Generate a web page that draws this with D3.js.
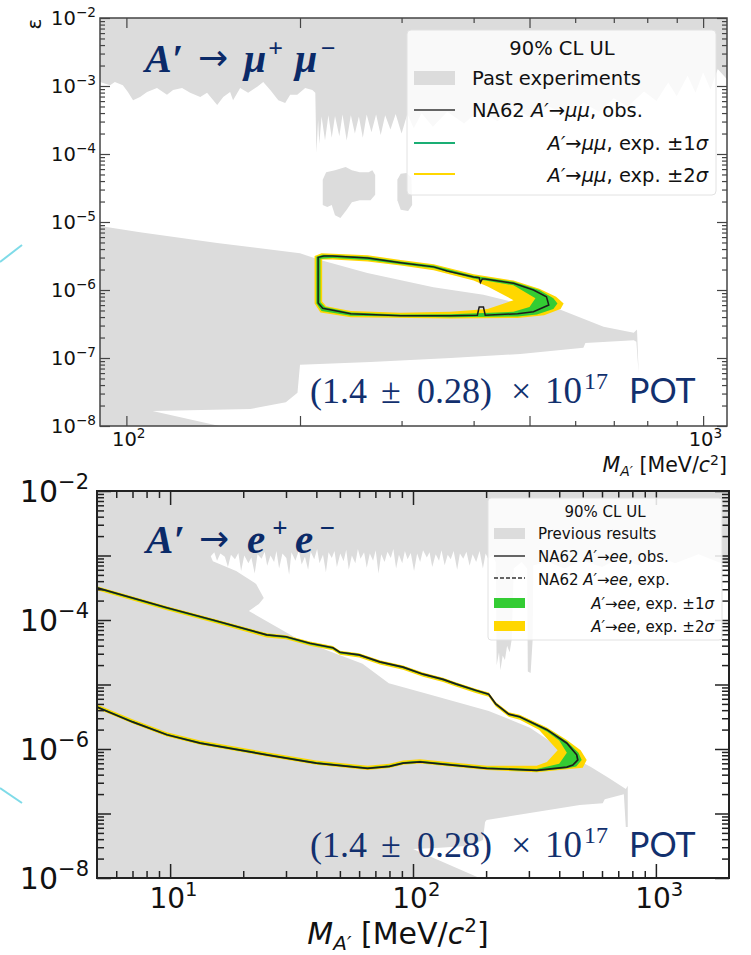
<!DOCTYPE html>
<html><head><meta charset="utf-8">
<script src="https://cdn.jsdelivr.net/npm/d3@7/dist/d3.min.js"></script>
<style>body{margin:0;background:#fff}svg{display:block}</style>
</head><body>
<svg id="c" width="751" height="955"></svg>
<script>
// ---------------- DATA (mass in MeV, epsilon given as log10 value) ----------------
const EPS_DOMAIN = [1e-8, 1e-2];
const MU_MASS_DOMAIN = [90, 1100];
const EE_MASS_DOMAIN = [5, 2000];
const EPS_DECADES = [-8, -7, -6, -5, -4, -3, -2];
const MU_EPS_LABELS = [-8, -7, -6, -5, -4, -3, -2];
const EE_EPS_LABELS = [-8, -6, -4, -2];
const MU_MASS_LONG = [100, 200, 500, 1000];
const MU_MASS_SHORT = [300, 400, 600, 700, 800, 900];
const MU_MASS_LABELS = [[100, "2"], [1000, "3"]];
const EE_MASS_LONG = [10, 100, 1000];
const EE_MASS_SHORT = [6, 7, 8, 9, 20, 30, 40, 50, 60, 70, 80, 90, 200, 300, 400, 500, 600, 700, 800, 900];
const EE_MASS_LABELS = [[10, "1"], [100, "2"], [1000, "3"]];

// --- A' -> mu mu : past experiments (excluded regions)
const muPastTopEdge = [[90,-2.94],[93.7,-2.99],[95.5,-2.94],[98.6,-2.99],[100.6,-3.09],[102.7,-3.21],[105.6,-3.16],[108.6,-3.09],[113,-3.03],[117.6,-3.13],[120.5,-3.06],[124.9,-3.03],[129,-3.10],[134.3,-3.16],[138,-3.10],[143.7,-3.28],[147.2,-3.16],[151.3,-3.09],[153.1,-3.21],[157.5,-3.03],[162.6,-3.10],[168.6,-3.01],[172.7,-2.94],[177.6,-3.06],[183.4,-3.21],[188.5,-3.25],[192.3,-3.13],[197.8,-3.13],[204.2,-3.03],[210.1,-3.06],[212.6,-3.10],
[213.5,-3.98],[215,-3.5],[216,-3.85],[218,-3.45],[221,-3.80],[224,-3.43],[227,-3.76],[230,-3.44],[234,-3.74],[237,-3.42],[241,-3.80],[245,-3.43],[249,-3.70],[253,-3.45],[257,-3.76],[261,-3.42],[266,-3.68],[271,-3.42],[276,-3.72],[281,-3.43],[287,-3.64],[293,-3.41],[300,-3.70],[307,-3.41],[315,-3.62],[325,-3.40],[340,-3.60],[360,-3.38],[385,-3.55],[410,-3.35],[440,-3.52],[470,-3.32],[505,-3.48],[540,-3.30],[580,-3.42],[620,-3.25],[660,-3.38],[700,-3.18],[740,-3.30],[790,-3.08],[830,-3.22],[870,-2.95],[900,-3.15],[940,-2.85],[970,-3.10],[1000,-2.80],[1030,-3.05],[1060,-2.75],[1100,-2.90],[1100,-2],[90,-2]];
const muPastIsland1 = [[219,-4.75],[219,-4.38],[222,-4.27],[230,-4.24],[240,-4.19],[246,-4.24],[254,-4.27],[263,-4.27],[267,-4.24],[270,-4.31],[270,-4.60],[265,-4.68],[254,-4.68],[246,-4.71],[241,-4.82],[235,-4.94],[230,-4.90],[227,-4.75],[223,-4.78]];
const muPastIsland2 = [[295,-4.38],[299,-4.29],[306,-4.28],[312,-4.35],[313,-4.75],[308,-4.84],[299,-4.82],[295,-4.68]];
const muPastLower = [[90,-5.06],[105.6,-5.15],[143.7,-5.31],[200,-5.46],[216.8,-5.56],[261.7,-5.75],[340.7,-5.96],[416,-6.07],[469,-6.18],[522,-6.22],[566,-6.29],[672,-6.54],[758,-6.63],[768,-6.58],[773,-7.22],[766,-6.76],[758,-6.74],[625,-6.78],[620,-6.85],[482,-6.94],[365,-7.0],[265,-7.06],[200,-7.10],[198,-7.51],[189,-7.65],[164,-7.75],[111,-7.78],[145,-8.0],[90,-8.0]];

// --- A' -> mu mu : NA62 observed and expected bands (closed contours)
const muObs = [[215,-5.52],[220,-5.50],[228,-5.50],[262,-5.53],[299,-5.60],[341,-5.66],[360,-5.72],[400,-5.81],[409,-5.82],[411,-5.89],[414,-5.84],[419,-5.84],[469,-5.90],[508,-6.00],[535,-6.10],[540,-6.22],[508,-6.32],[477,-6.35],[419,-6.37],[416,-6.25],[409,-6.25],[406,-6.37],[365,-6.38],[299,-6.38],[245,-6.35],[219,-6.27],[215,-6.19]];
const muOuter2 = [[212,-6.2],[212,-5.5],[218,-5.46],[262,-5.49],[299,-5.56],[341,-5.62],[400,-5.77],[469,-5.86],[520,-5.98],[556,-6.10],[573,-6.2],[566,-6.28],[530,-6.37],[477,-6.41],[365,-6.42],[245,-6.40],[217,-6.33]];
const muOuter1 = [[213.5,-6.2],[213.5,-5.51],[219,-5.48],[262,-5.51],[299,-5.58],[341,-5.64],[400,-5.79],[469,-5.88],[520,-6.0],[550,-6.12],[559,-6.2],[550,-6.28],[515,-6.36],[477,-6.39],[365,-6.40],[245,-6.38],[218,-6.31]];
const muInner1 = [[217,-6.18],[217,-5.54],[228,-5.53],[262,-5.56],[299,-5.62],[341,-5.68],[400,-5.83],[469,-5.93],[512,-6.12],[500,-6.25],[469,-6.32],[365,-6.355],[299,-6.36],[245,-6.33],[221,-6.25]];
const muInner2 = [[218.5,-6.17],[218.5,-5.55],[228,-5.55],[262,-5.58],[299,-5.64],[341,-5.71],[400,-5.86],[423,-5.95],[469,-6.15],[423,-6.28],[365,-6.32],[299,-6.335],[245,-6.31],[222,-6.24]];

// --- A' -> e e : previous results = whole plane minus this open (allowed) region
const eeOpenTop = [[14.7,-3.01],[15.2,-2.95],[15.6,-3.08],[16.1,-2.97],[16.8,-3.02],[17.3,-3.18],[17.8,-2.99],[18.5,-3.06],[19.1,-2.96],[19.6,-3.24],[20.2,-3.0],[21.0,-3.12],[21.6,-3.03],[22.3,-3.28],[22.9,-2.98],[23.8,-3.05],[24.5,-2.94],[25.1,-3.16],[25.9,-3.0],[26.8,-3.1],[27.4,-2.93],[28.1,-3.2],[29.0,-2.97],[30.1,-3.04],[30.9,-3.3],[31.6,-2.95],[32.8,-3.08],[33.9,-2.92],[34.8,-3.14],[35.9,-3.02],[37.0,-3.22],[37.9,-2.94],[39.2,-3.06],[40.3,-2.9],[41.2,-3.12],[42.6,-2.99],[43.8,-3.26],[44.9,-2.95],[46.3,-3.04],[47.5,-2.93],[48.6,-3.18],[50.2,-2.97],[51.8,-3.09],[53.1,-2.91],[54.4,-3.22],[56.0,-3.0],[57.9,-3.12],[59.3,-2.9],[60.8,-3.05],[62.9,-2.95],[64.5,-3.19],[66.4,-2.97],[68.5,-3.08],[70.2,-2.92],[72.1,-3.28],[74.0,-2.98],[76.4,-3.1],[78.5,-2.94],[81.0,-3.04],[83.0,-2.9],[85.2,-3.2],[87.5,-2.99],[90.3,-3.12],[92.6,-2.93],[95.0,-3.06],[97.9,-2.96],[101,-3.24],[104,-2.97],[107,-3.1],[110,-2.92],[114,-3.03],[117,-2.95],[120,-3.18],[124,-2.98],[128,-3.08],[131,-2.92],[135,-3.15],[139,-2.99],[143,-3.06],[147,-2.93],[152,-3.22],[156,-2.97],[161,-3.05],[166,-2.94],[171,-3.16],[176,-2.98],[182,-3.1],[188,-2.93],[194,-3.2],[199,-2.97],[204,-3.05],
[212,-3.0],[219,-3.1],[221,-4.7],[226,-4.5],[229,-4.78],[234,-4.55],[239,-4.62],[244,-4.4],[250,-4.5],[255,-4.3],[260,-3.2],[280,-3.1],[295,-3.2],[297,-4.8],[305,-4.82],[311,-4.3],[313,-3.15],[360,-3.1],[420,-3.2],[500,-3.08],[600,-3.18],[700,-3.05],[850,-3.15],[1000,-3.0],[1200,-3.12],[1500,-2.98],[1800,-3.1],[2000,-3.15]];
const eeOpenBottom = [[2000,-8],[188,-8],[100,-7.55],[129,-7.53],[171,-7.50],[194,-7.41],[198,-7.13],[201,-7.10],
[486,-6.87],[604,-6.84],[616,-6.78],[738,-6.70],[752,-7.21],[766,-7.21],[766,-6.57],[752,-6.62],
[640,-6.45],[540,-6.28],[477,-6.17],[402,-5.98],[303,-5.67],[205,-5.41],[116,-5.15],[79.5,-4.98],[62,-4.68],[45,-4.48],[33,-4.28],[21.1,-3.86],[23.2,-3.75],[24.3,-3.66],[22.6,-3.44],[18.7,-3.24],[15,-3.09]];

// --- A' -> e e : NA62 observed (open line) and expected bands
const eeObs = [[5,-3.50],[9.7,-3.81],[15,-4.0],[25,-4.23],[30,-4.26],[37.6,-4.36],[46.8,-4.43],[50,-4.50],[60,-4.54],[73,-4.65],[91,-4.73],[110,-4.84],[133,-4.92],[150,-4.99],[181,-5.09],[205,-5.15],[219,-5.30],[248,-5.46],[275,-5.50],[356,-5.70],[430,-5.91],[472,-6.09],[477,-6.17],[455,-6.25],[430,-6.28],[323,-6.33],[201,-6.30],[146,-6.25],[107,-6.20],[91,-6.22],[80,-6.27],[65,-6.30],[40,-6.22],[25,-6.09],[13.3,-5.91],[9.7,-5.78],[7,-5.58],[5,-5.35]];
const eeOuter2 = [[5,-3.475],[9.7,-3.785],[15,-3.975],[25,-4.205],[30,-4.235],[37.6,-4.335],[46.8,-4.405],[50,-4.475],[60,-4.515],[73,-4.625],[91,-4.705],[110,-4.815],[133,-4.895],[150,-4.965],[181,-5.065],[205,-5.125],[219,-5.27],[248,-5.43],[275,-5.47],[356,-5.665],[430,-5.86],[490,-6.02],[519,-6.17],[500,-6.29],[430,-6.315],[323,-6.36],[201,-6.325],[146,-6.275],[107,-6.225],[91,-6.245],[80,-6.295],[65,-6.325],[40,-6.245],[25,-6.115],[13.3,-5.935],[9.7,-5.805],[7,-5.605],[5,-5.375]];
const eeOuter1 = [[5,-3.488],[9.7,-3.798],[15,-3.988],[25,-4.218],[30,-4.248],[37.6,-4.348],[46.8,-4.418],[50,-4.488],[60,-4.528],[73,-4.638],[91,-4.718],[110,-4.828],[133,-4.908],[150,-4.978],[181,-5.078],[205,-5.138],[219,-5.288],[248,-5.448],[275,-5.488],[356,-5.685],[430,-5.885],[480,-6.06],[495,-6.17],[470,-6.27],[430,-6.30],[323,-6.345],[201,-6.312],[146,-6.262],[107,-6.212],[91,-6.232],[80,-6.282],[65,-6.312],[40,-6.232],[25,-6.102],[13.3,-5.922],[9.7,-5.792],[7,-5.592],[5,-5.362]];
const eeInner1 = [[5,-3.518],[9.7,-3.828],[15,-4.018],[25,-4.248],[30,-4.278],[37.6,-4.378],[46.8,-4.448],[50,-4.518],[60,-4.558],[73,-4.668],[91,-4.748],[110,-4.858],[133,-4.938],[150,-5.008],[181,-5.108],[205,-5.168],[219,-5.318],[248,-5.478],[275,-5.52],[356,-5.73],[400,-5.87],[430,-6.06],[400,-6.23],[323,-6.31],[201,-6.282],[146,-6.232],[107,-6.182],[91,-6.202],[80,-6.252],[65,-6.282],[40,-6.202],[25,-6.072],[13.3,-5.892],[9.7,-5.762],[7,-5.562],[5,-5.332]];
const eeInner2 = [[5,-3.54],[9.7,-3.85],[15,-4.04],[25,-4.27],[30,-4.30],[37.6,-4.40],[46.8,-4.47],[50,-4.54],[60,-4.58],[73,-4.69],[91,-4.77],[110,-4.88],[133,-4.96],[150,-5.03],[181,-5.13],[205,-5.19],[219,-5.34],[248,-5.50],[275,-5.545],[330,-5.70],[394,-6.02],[356,-6.20],[323,-6.26],[201,-6.26],[146,-6.21],[107,-6.16],[91,-6.18],[80,-6.23],[65,-6.26],[40,-6.18],[25,-6.05],[13.3,-5.87],[9.7,-5.74],[7,-5.54],[5,-5.31]];

// ---------------- DRAWING ----------------
const GRAY = "#dcdcdc", GREEN = "#33cc33", YELLOW = "#ffd700", NAVY = "#0b2a68";
const svg = d3.select("#c");
const defs = svg.append("defs");

svg.append("line").attr("x1",0).attr("y1",262).attr("x2",22).attr("y2",245).attr("stroke","#7fdbe8").attr("stroke-width",2);
svg.append("line").attr("x1",0).attr("y1",788).attr("x2",22).attr("y2",803).attr("stroke","#7fdbe8").attr("stroke-width",2);

function makePanel(o) {
  const x = d3.scaleLog().domain(o.xd).range([o.l, o.r]);
  const y = d3.scaleLog().domain(EPS_DOMAIN).range([o.b, o.t]);
  defs.append("clipPath").attr("id", o.id).append("rect")
    .attr("x", o.l).attr("y", o.t).attr("width", o.r - o.l).attr("height", o.b - o.t);
  const g = svg.append("g");
  const plot = g.append("g").attr("clip-path", `url(#${o.id})`);
  const line = d3.line().x(d => x(d[0])).y(d => y(Math.pow(10, d[1])));
  const closed = pts => line(pts) + "Z";
  return {x, y, g, plot, line, closed, o};
}

function band(P, outer, inner, color) {
  P.plot.append("path").attr("d", P.closed(outer) + P.closed(inner))
    .attr("fill", color).attr("fill-rule", "evenodd").attr("stroke", "none");
}

function sci(sel, exp, supSize, supDy) {
  sel.append("tspan").text("10");
  sel.append("tspan").attr("font-size", supSize).attr("dy", supDy).text(exp);
}

function axes(P, s) {
  const {x, y, g, o} = P;
  const yMinor = [];
  EPS_DECADES.forEach(e => { if (e < -2) for (let k = 2; k < 10; k++) yMinor.push(k * Math.pow(10, e)); });
  const yMajor = EPS_DECADES.map(e => Math.pow(10, e));
  const tickStyle = sel => { sel.select(".domain").remove(); sel.selectAll("line").attr("stroke", s.col).attr("stroke-width", s.tw); sel.selectAll("text").remove(); };
  const add = (axis, tr) => g.append("g").attr("transform", tr).call(axis).call(tickStyle);
  add(d3.axisLeft(y).tickValues(yMajor).tickSize(-s.maj).tickFormat(""), `translate(${o.l},0)`);
  add(d3.axisLeft(y).tickValues(yMinor).tickSize(-s.min).tickFormat(""), `translate(${o.l},0)`);
  add(d3.axisRight(y).tickValues(yMajor).tickSize(-s.maj).tickFormat(""), `translate(${o.r},0)`);
  add(d3.axisRight(y).tickValues(yMinor).tickSize(-s.min).tickFormat(""), `translate(${o.r},0)`);
  add(d3.axisBottom(x).tickValues(s.xLong).tickSize(-s.maj).tickFormat(""), `translate(0,${o.b})`);
  add(d3.axisBottom(x).tickValues(s.xShort).tickSize(-s.min).tickFormat(""), `translate(0,${o.b})`);
  add(d3.axisTop(x).tickValues(s.xLong).tickSize(-s.maj).tickFormat(""), `translate(0,${o.t})`);
  add(d3.axisTop(x).tickValues(s.xShort).tickSize(-s.min).tickFormat(""), `translate(0,${o.t})`);
  g.append("rect").attr("x", o.l).attr("y", o.t).attr("width", o.r - o.l).attr("height", o.b - o.t)
    .attr("fill", "none").attr("stroke", s.col).attr("stroke-width", s.sw);
  s.yLabels.forEach(e => {
    const t = g.append("text").attr("x", o.l - s.ypad).attr("y", y(Math.pow(10, e)) + s.yfs * 0.36)
      .attr("text-anchor", "end").attr("font-family", "DejaVu Sans").attr("font-size", s.yfs).attr("fill", "#111");
    sci(t, "\u2212" + Math.abs(e), s.yfs * 0.7, -s.yfs * 0.42);
  });
  s.xLabels.forEach(([v, e]) => {
    const t = g.append("text").attr("x", x(v) + s.xfs * 0.12).attr("y", s.xbase)
      .attr("text-anchor", "middle").attr("font-family", "DejaVu Sans").attr("font-size", s.xfs).attr("fill", "#111");
    sci(t, e, s.xfs * 0.7, -s.xfs * 0.42);
  });
}

function title(yb, pieces) {
  const t = svg.append("text").attr("y", yb).attr("fill", NAVY).attr("font-family", "Liberation Serif");
  pieces.forEach(([x, txt, fs, dy, bold]) => {
    t.append("tspan").attr("x", x).attr("y", yb + dy).attr("font-size", fs)
      .attr("font-weight", bold ? "bold" : "normal").attr("font-style", bold ? "italic" : "normal")
      .attr("font-family", bold ? "Liberation Serif" : "DejaVu Sans").text(txt);
  });
}
function pot(yb) {
  const t = svg.append("text").attr("y", yb).attr("fill", "#12306e").attr("font-family", "Liberation Serif");
  [[310, "(1.4", 36, 0, null], [381, "\u00b1", 36, 0, null], [417, "0.28)", 36, 0, null], [511, "\u00d7", 36, 0, null],
   [545, "10", 37, 0, null], [584, "17", 24, -14, null], [629, "POT", 34, 0, "Lato"]].forEach(([x, txt, fs, dy, ff]) => {
    const s = t.append("tspan").attr("x", x).attr("y", yb + dy).attr("font-size", fs).text(txt);
    if (ff) s.attr("font-family", ff);
  });
}

// ================= TOP PANEL (mu mu) =================
const T = makePanel({id: "clipTop", xd: MU_MASS_DOMAIN, l: 100, r: 727, t: 18, b: 426});
[muPastTopEdge, muPastIsland1, muPastIsland2, muPastLower].forEach(p =>
  T.plot.append("path").attr("d", T.closed(p)).attr("fill", GRAY));
band(T, muOuter2, muInner2, YELLOW);
band(T, muOuter1, muInner1, GREEN);
T.plot.append("path").attr("d", T.closed(muObs)).attr("fill", "none").attr("stroke", "#1c1c1c").attr("stroke-width", 1.5);

title(72, [[145, "A\u2032", 40, 0, true], [198, "\u2192", 36, -2, false], [244, "\u03bc", 40, 0, true],
  [268, "+", 26, -15, true], [295, "\u03bc", 40, 0, true], [320, "\u2212", 26, -15, true]]);
pot(403);

{
  const lg = svg.append("g").attr("font-family", "DejaVu Sans").attr("fill", "#111");
  lg.append("rect").attr("x", 407).attr("y", 30).attr("width", 309).attr("height", 165).attr("rx", 4)
    .attr("fill", "#fff").attr("fill-opacity", 0.82).attr("stroke", "#e2e2e2");
  const fs = 19.5;
  lg.append("text").attr("x", 562).attr("y", 55).attr("text-anchor", "middle").attr("font-size", fs).text("90% CL UL");
  lg.append("rect").attr("x", 414).attr("y", 71).attr("width", 41).attr("height", 14).attr("fill", GRAY);
  lg.append("text").attr("x", 472).attr("y", 85).attr("font-size", fs).text("Past experiments");
  lg.append("line").attr("x1", 414).attr("x2", 455).attr("y1", 110).attr("y2", 110).attr("stroke", "#333").attr("stroke-width", 1.5);
  const r3 = lg.append("text").attr("x", 472).attr("y", 117).attr("font-size", fs);
  r3.append("tspan").text("NA62 ");
  r3.append("tspan").attr("font-style", "italic").text("A\u2032");
  r3.append("tspan").text("\u2192");
  r3.append("tspan").attr("font-style", "italic").text("\u03bc\u03bc");
  r3.append("tspan").text(", obs.");
  [[143, 150, "#1aae74", "1"], [174, 182, "#ffd700", "2"]].forEach(([ly, ty, c, n]) => {
    lg.append("line").attr("x1", 414).attr("x2", 455).attr("y1", ly).attr("y2", ly).attr("stroke", c).attr("stroke-width", 2);
    const t = lg.append("text").attr("x", 708).attr("y", ty).attr("text-anchor", "end").attr("font-size", fs);
    t.append("tspan").attr("font-style", "italic").text("A\u2032");
    t.append("tspan").text("\u2192");
    t.append("tspan").attr("font-style", "italic").text("\u03bc\u03bc");
    t.append("tspan").text(", exp. \u00b1" + n);
    t.append("tspan").attr("font-style", "italic").text("\u03c3");
  });
}
axes(T, {col: "#444", tw: 1.2, sw: 1.5, maj: 10, min: 5, xLong: MU_MASS_LONG, xShort: MU_MASS_SHORT,
  yLabels: MU_EPS_LABELS, yfs: 19.5, ypad: 4, xLabels: MU_MASS_LABELS, xfs: 19.5, xbase: 446});
svg.append("text").attr("transform", "translate(41,24) rotate(-90)").attr("text-anchor", "middle")
  .attr("font-family", "DejaVu Sans").attr("font-size", 20).attr("fill", "#111").text("\u03b5");
{
  const t = svg.append("text").attr("x", 727).attr("y", 472).attr("text-anchor", "end")
    .attr("font-family", "DejaVu Sans").attr("font-size", 20.5).attr("fill", "#111");
  t.append("tspan").attr("font-style", "italic").text("M");
  t.append("tspan").attr("font-style", "italic").attr("font-size", 14).attr("dy", 4).text("A\u2032");
  t.append("tspan").attr("dy", -4).text(" [MeV/");
  t.append("tspan").attr("font-style", "italic").text("c");
  t.append("tspan").attr("font-size", 14).attr("dy", -7).text("2");
  t.append("tspan").attr("dy", 7).text("]");
}

// ================= BOTTOM PANEL (e e) =================
const B = makePanel({id: "clipBot", xd: EE_MASS_DOMAIN, l: 97, r: 729, t: 491, b: 878});
{
  const [x0, x1] = EE_MASS_DOMAIN;
  const frame = [[x0, -8], [x1, -8], [x1, -2], [x0, -2]];
  B.plot.append("path").attr("d", B.closed(frame) + B.closed(eeOpenTop.concat(eeOpenBottom)))
    .attr("fill", GRAY).attr("fill-rule", "evenodd");
}
band(B, eeOuter2, eeInner2, YELLOW);
band(B, eeOuter1, eeInner1, GREEN);
B.plot.append("path").attr("d", B.line(eeObs)).attr("fill", "none").attr("stroke", "#1c1c1c").attr("stroke-width", 1.7);

title(553, [[146, "A\u2032", 41, 0, true], [199, "\u2192", 36, -2, false], [247, "e", 41, 0, true],
  [272, "+", 27, -16, true], [295, "e", 41, 0, true], [319, "\u2212", 27, -16, true]]);
pot(857);

{
  const lg = svg.append("g").attr("font-family", "DejaVu Sans").attr("fill", "#111");
  lg.append("rect").attr("x", 488).attr("y", 498).attr("width", 234).attr("height", 142).attr("rx", 3)
    .attr("fill", "#fff").attr("fill-opacity", 0.85).attr("stroke", "#e2e2e2");
  const fs = 15;
  lg.append("text").attr("x", 605).attr("y", 517).attr("text-anchor", "middle").attr("font-size", fs).text("90% CL UL");
  lg.append("rect").attr("x", 494).attr("y", 528).attr("width", 31).attr("height", 11).attr("fill", GRAY);
  lg.append("text").attr("x", 538).attr("y", 539).attr("font-size", fs).text("Previous results");
  [[556, 562, "none", "obs."], [578, 585, "4,2", "exp."]].forEach(([ly, ty, dash, w]) => {
    lg.append("line").attr("x1", 494).attr("x2", 525).attr("y1", ly).attr("y2", ly).attr("stroke", "#333")
      .attr("stroke-width", 1.5).attr("stroke-dasharray", dash);
    const t = lg.append("text").attr("x", 538).attr("y", ty).attr("font-size", fs);
    t.append("tspan").text("NA62 ");
    t.append("tspan").attr("font-style", "italic").text("A\u2032");
    t.append("tspan").text("\u2192");
    t.append("tspan").attr("font-style", "italic").text("ee");
    t.append("tspan").text(", " + w);
  });
  [[598, 609, GREEN, "1"], [621, 632, YELLOW, "2"]].forEach(([ry, ty, c, n]) => {
    lg.append("rect").attr("x", 494).attr("y", ry).attr("width", 31).attr("height", 10).attr("fill", c);
    const t = lg.append("text").attr("x", 714).attr("y", ty).attr("text-anchor", "end").attr("font-size", fs);
    t.append("tspan").attr("font-style", "italic").text("A\u2032");
    t.append("tspan").text("\u2192");
    t.append("tspan").attr("font-style", "italic").text("ee");
    t.append("tspan").text(", exp. \u00b1" + n);
    t.append("tspan").attr("font-style", "italic").text("\u03c3");
  });
}
axes(B, {col: "#222", tw: 1.5, sw: 2, maj: 14, min: 7, xLong: EE_MASS_LONG, xShort: EE_MASS_SHORT,
  yLabels: EE_EPS_LABELS, yfs: 30, ypad: 8, xLabels: EE_MASS_LABELS, xfs: 28, xbase: 908});
{
  const t = svg.append("text").attr("x", 398).attr("y", 944).attr("text-anchor", "middle")
    .attr("font-family", "DejaVu Sans").attr("font-size", 30).attr("fill", "#111");
  t.append("tspan").attr("font-style", "italic").text("M");
  t.append("tspan").attr("font-style", "italic").attr("font-size", 20).attr("dy", 6).text("A\u2032");
  t.append("tspan").attr("dy", -6).text(" [MeV/");
  t.append("tspan").attr("font-style", "italic").text("c");
  t.append("tspan").attr("font-size", 20).attr("dy", -12).text("2");
  t.append("tspan").attr("dy", 12).text("]");
}
</script>
</body></html>
